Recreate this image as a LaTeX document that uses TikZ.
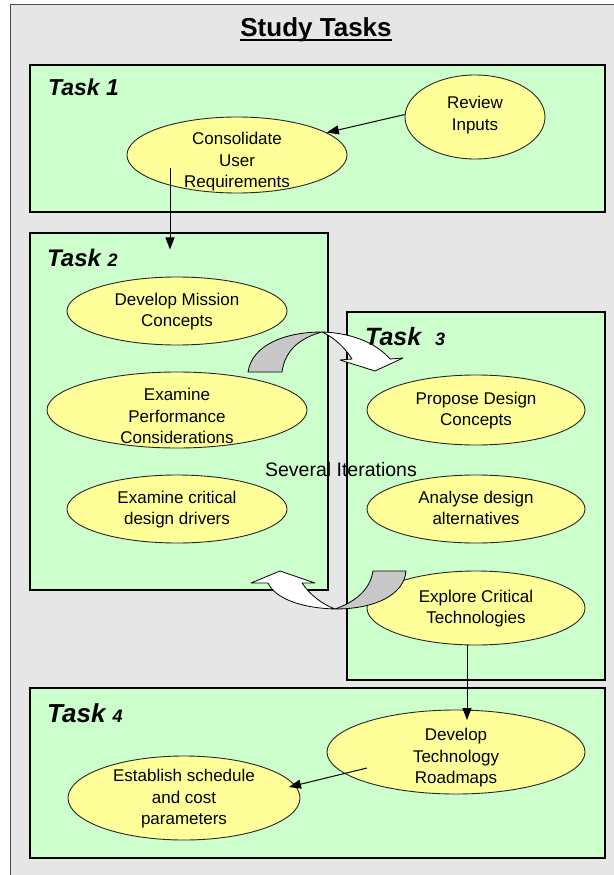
\documentclass[tikz,border=0pt]{standalone}
\usepackage{fontspec}
\setmainfont{Liberation Sans}
\usepackage{tikz}
\usetikzlibrary{shapes.geometric,arrows.meta}
\definecolor{panelgray}{RGB}{230,230,230}
\definecolor{taskgreen}{RGB}{204,255,204}
\definecolor{stepyellow}{RGB}{255,255,153}
\definecolor{bendgray}{RGB}{200,200,200}
\newcommand{\steptext}[2][0pt]{\raisebox{\dimexpr-10pt-#1\relax}{\smash{\begin{tabular}{@{}c@{}}#2\end{tabular}}}}

\begin{document}
\begin{tikzpicture}
            [every node/.style={inner sep=0pt},
             taskbox/.style={rectangle, draw=black, line width=1.1pt, fill=taskgreen},
             stepnode/.style={ellipse, draw=black!85, line width=0.9pt, fill=stepyellow, font=\fontsize{17}{21.5}\selectfont},
             tasklabel/.style={anchor=base west, font=\bfseries\itshape},
             flow/.style={line width=1pt, -{Triangle[length=12pt,width=9pt]}},
             curvearrow/.style={draw=black, line width=0.8pt, line join=round}]
                \useasboundingbox (0pt, 0pt) rectangle (613pt, -875pt);
                \node (b0) [rectangle, draw=black!70, line width=1pt, fill=panelgray, minimum width=640pt, minimum height=900pt] at (330.5pt, -454.5pt) {};
                \node (b1) [taskbox, minimum width=575pt, minimum height=147pt] at (317.5pt, -138.5pt) {};
                \node (b2) [taskbox, minimum width=298pt, minimum height=357pt] at (179pt, -411.5pt) {};
                \node (b3) [taskbox, minimum width=258pt, minimum height=368pt] at (476pt, -496pt) {};
                \node (b4) [taskbox, minimum width=575pt, minimum height=170pt] at (317.5pt, -773pt) {};
                \node (1) [stepnode, minimum width=220pt, minimum height=76pt] at (237pt, -155pt) {\steptext[13pt]{Consolidate\\User\\Requirements}};
                \node (2) [stepnode, minimum width=140pt, minimum height=84pt] at (475pt, -117pt) {\steptext[-5pt]{Review\\Inputs}};
                \node (3) [stepnode, minimum width=220pt, minimum height=68pt] at (177pt, -311pt) {\steptext{Develop Mission\\Concepts}};
                \node (4) [stepnode, minimum width=260pt, minimum height=76pt] at (177pt, -410pt) {\steptext[15pt]{Examine\\Performance\\Considerations}};
                \node (5) [stepnode, minimum width=220pt, minimum height=68pt] at (177pt, -509pt) {\steptext{Examine critical\\design drivers}};
                \node (6) [stepnode, minimum width=218pt, minimum height=70pt] at (476pt, -410pt) {\steptext{Propose Design\\Concepts}};
                \node (7) [stepnode, minimum width=218pt, minimum height=68pt] at (476pt, -509pt) {\steptext{Analyse design\\alternatives}};
                \node (8) [stepnode, minimum width=218pt, minimum height=74pt] at (476pt, -608pt) {\steptext{Explore Critical\\Technologies}};
                \node (9) [stepnode, minimum width=258pt, minimum height=84pt] at (456pt, -752pt) {\steptext[11pt]{Develop\\Technology\\Roadmaps}};
                \node (10) [stepnode, minimum width=232pt, minimum height=84pt] at (184pt, -798pt) {\steptext[1pt]{Establish schedule\\and cost\\parameters}};
                \draw [flow] (2.178) to (1.14);
                \draw [flow] ([xshift=-67pt, yshift=-13pt]1.center) to ([xshift=-9pt, yshift=-17pt]b2.north);
                \draw [flow] ([xshift=-9pt]8.south) to ([xshift=11pt, yshift=32pt]9.center);
                \draw [flow] ([xshift=-89pt, yshift=-16pt]9.center) to ([xshift=105pt, yshift=11pt]10.center);
                \filldraw [curvearrow, fill=bendgray] (248pt, -372pt) .. controls (252pt, -345pt) and (285pt, -332pt) .. (322pt, -332pt) .. controls (300pt, -338pt) and (285pt, -350pt) .. (282pt, -372pt) -- cycle;
                \filldraw [curvearrow, fill=white] (322pt, -332pt) .. controls (355pt, -333pt) and (378pt, -345pt) .. (390pt, -359pt) -- (403pt, -358pt) -- (375pt, -371pt) -- (340pt, -360pt) -- (352pt, -359pt) .. controls (345pt, -348pt) and (335pt, -338pt) .. (322pt, -332pt) -- cycle;
                \filldraw [curvearrow, fill=bendgray] (373pt, -571pt) -- (406pt, -571pt) .. controls (404pt, -595pt) and (375pt, -609pt) .. (335pt, -609pt) .. controls (355pt, -602pt) and (370pt, -590pt) .. (373pt, -571pt) -- cycle;
                \filldraw [curvearrow, fill=white] (335pt, -609pt) .. controls (300pt, -608pt) and (275pt, -598pt) .. (268pt, -583pt) -- (251pt, -583pt) -- (280pt, -571pt) -- (315pt, -583pt) -- (302pt, -583pt) .. controls (310pt, -595pt) and (322pt, -604pt) .. (335pt, -609pt) -- cycle;
                \node (0) [anchor=base, font=\fontsize{26}{30}\selectfont\bfseries] at (316pt, -37pt) {Study Tasks};
                \draw [line width=1.4pt] ([yshift=-3pt]0.base west) -- ([yshift=-3pt]0.base east);
                \node (t1) [tasklabel] at (48pt, -95pt) {\fontsize{23}{26}\selectfont Task 1};
                \node (t2) [tasklabel] at (47pt, -266pt) {\fontsize{24}{26}\selectfont Task \fontsize{18}{20}\selectfont 2};
                \node (t3) [tasklabel] at (365pt, -345pt) {\fontsize{25}{26}\selectfont Task \ \fontsize{18}{20}\selectfont 3};
                \node (t4) [tasklabel] at (47pt, -722pt) {\fontsize{26}{28}\selectfont Task \fontsize{18}{20}\selectfont 4};
                \node (it) [font=\fontsize{19.5}{22}\selectfont] at (341pt, -470pt) {Several Iterations};
            \end{tikzpicture}
\end{document}
